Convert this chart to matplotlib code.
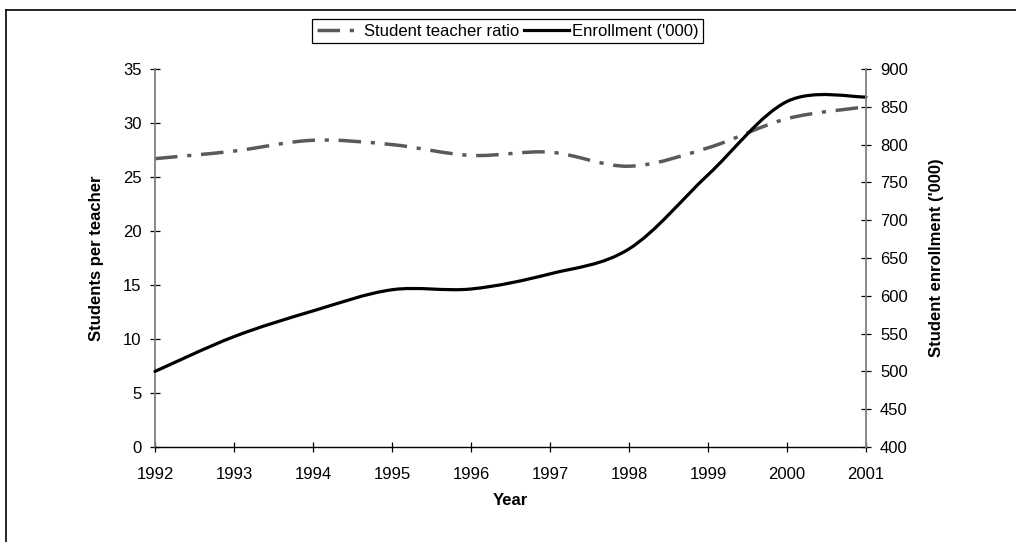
import numpy as np
import matplotlib
import matplotlib.pyplot as plt
from matplotlib.path import Path
from matplotlib.patches import PathPatch
from matplotlib.lines import Line2D

matplotlib.use("Agg")

years = [1992, 1993, 1994, 1995, 1996, 1997, 1998, 1999, 2000, 2001]
ratio = [26.7, 27.4, 28.4, 28.0, 27.0, 27.3, 26.0, 27.7, 30.4, 31.5]
enrollment = [500, 546, 580, 608, 609, 629, 662, 760, 857, 863]

left_ticks = [0, 5, 10, 15, 20, 25, 30, 35]
right_ticks = [400, 450, 500, 550, 600, 650, 700, 750, 800, 850, 900]

ratio_color = "#5a5a5a"
dashdot = (0, (6.5, 2.8, 1.2, 2.8))

plt.rcParams["font.family"] = ["Liberation Sans", "DejaVu Sans"]
plt.rcParams["font.size"] = 12


def smooth_path(xs, ys):
    # excel style smoothed line, as cubic bezier segments
    pts = np.column_stack([xs, ys]).astype(float)
    n = len(pts)
    verts = [pts[0]]
    codes = [Path.MOVETO]
    for i in range(n - 1):
        p0 = pts[max(i - 1, 0)]
        p1 = pts[i]
        p2 = pts[i + 1]
        p3 = pts[min(i + 2, n - 1)]
        verts += [p1 + (p2 - p0) / 6, p2 - (p3 - p1) / 6, p2]
        codes += [Path.CURVE4] * 3
    return Path(verts, codes)


fig = plt.figure(figsize=(10.16, 5.42), dpi=100)
ax = fig.add_axes([155 / 1016, 1 - 447 / 542, 711 / 1016, 378 / 542])
ax2 = ax.twinx()

ax.add_patch(PathPatch(smooth_path(years, ratio), fill=False, edgecolor=ratio_color,
                       lw=2.5, linestyle=dashdot, capstyle="butt", clip_on=False))
ax2.add_patch(PathPatch(smooth_path(years, enrollment), fill=False, edgecolor="black",
                        lw=2.3, capstyle="round", joinstyle="round", clip_on=False))

ax.set_xlim(1992, 2001)
ax.set_ylim(0, 35)
ax2.set_ylim(400, 900)
ax.set_xticks(years)
ax.set_yticks(left_ticks)
ax2.set_yticks(right_ticks)

for s in ["top", "right"]:
    ax.spines[s].set_visible(False)
for s in ["top", "left", "bottom"]:
    ax2.spines[s].set_visible(False)
ax.spines["left"].set_color("#808080")
ax.spines["left"].set_linewidth(1.3)
ax2.spines["right"].set_color("#808080")
ax2.spines["right"].set_linewidth(1.3)
ax.spines["bottom"].set_color("black")
ax.spines["bottom"].set_linewidth(1.0)
ax.spines["bottom"].set_zorder(5)

ax.tick_params(axis="x", direction="inout", length=7.2, width=0.9, pad=10.6, color="black")
ax.tick_params(axis="y", direction="inout", length=7.5, width=0.9, pad=5.9, color="black")
ax2.tick_params(axis="y", direction="inout", length=7.5, width=0.9, pad=6.3, color="black")

ax.set_xlabel("Year", fontweight="bold")
ax.xaxis.set_label_coords(0.5, -0.122)
ax.set_ylabel("Students per teacher", fontweight="bold")
ax.yaxis.set_label_coords(-0.0717, 0.5)
ax2.set_ylabel("Student enrollment ('000)", fontweight="bold")
ax2.yaxis.set_label_coords(1.0886, 0.5)

handles = [
    Line2D([], [], color=ratio_color, lw=2.5, linestyle=dashdot, dash_capstyle="butt"),
    Line2D([], [], color="black", lw=2.3),
]
leg = fig.legend(handles, ["Student teacher ratio", "Enrollment ('000)"], loc="center",
                 bbox_to_anchor=(0.4995, 0.9428), ncol=2, fancybox=False, framealpha=1,
                 edgecolor="black", handlelength=2.7, handletextpad=0.15, columnspacing=0.3,
                 borderpad=0.25, borderaxespad=0)
leg.get_frame().set_linewidth(0.9)

# outer border, only top and left edges are in view
fig.add_artist(Line2D([5.5 / 1016, 1], [1 - 10 / 542, 1 - 10 / 542], color="black", lw=1.2,
                      transform=fig.transFigure))
fig.add_artist(Line2D([5.5 / 1016, 5.5 / 1016], [0, 1 - 10 / 542], color="black", lw=1.2,
                      transform=fig.transFigure))

fig.savefig("out.png", dpi=100)
